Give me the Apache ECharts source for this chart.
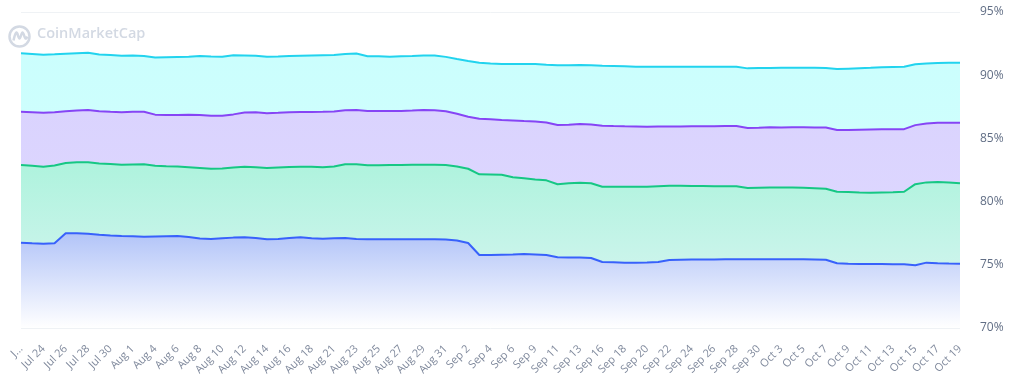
<!DOCTYPE html>
<html>
<head>
<meta charset="utf-8">
<script src="https://cdn.jsdelivr.net/npm/echarts@6/dist/echarts.min.js"></script>
<style>
html,body{margin:0;padding:0;background:#fff;}
#chart{width:1012px;height:391px;}
</style>
</head>
<body>
<div id="chart"></div>
<script>
const dates = [
 'Jul 22','Jul 23','Jul 24','Jul 25','Jul 26','Jul 27','Jul 28','Jul 29','Jul 30','Jul 31',
 'Aug 1','Aug 2','Aug 4','Aug 5','Aug 6','Aug 7','Aug 8','Aug 9','Aug 10','Aug 11',
 'Aug 12','Aug 13','Aug 14','Aug 15','Aug 16','Aug 17','Aug 18','Aug 19','Aug 21','Aug 22',
 'Aug 23','Aug 24','Aug 25','Aug 26','Aug 27','Aug 28','Aug 29','Aug 30','Aug 31','Sep 1',
 'Sep 2','Sep 3','Sep 4','Sep 5','Sep 6','Sep 7','Sep 9','Sep 10','Sep 11','Sep 12',
 'Sep 13','Sep 14','Sep 16','Sep 17','Sep 18','Sep 19','Sep 20','Sep 21','Sep 22','Sep 23',
 'Sep 24','Sep 25','Sep 26','Sep 27','Sep 28','Sep 29','Sep 30','Oct 1','Oct 3','Oct 4',
 'Oct 5','Oct 6','Oct 7','Oct 8','Oct 9','Oct 10','Oct 11','Oct 12','Oct 13','Oct 14',
 'Oct 15','Oct 16','Oct 17','Oct 18','Oct 19'
];

const cyanValues = [
 91.73,91.68,91.62,91.65,91.70,91.74,91.78,91.64,91.60,91.54,
 91.56,91.52,91.40,91.42,91.44,91.46,91.52,91.48,91.46,91.58,
 91.56,91.54,91.46,91.48,91.52,91.54,91.56,91.58,91.60,91.68,
 91.72,91.50,91.49,91.46,91.50,91.52,91.56,91.55,91.45,91.28,
 91.12,90.98,90.92,90.89,90.89,90.89,90.88,90.82,90.78,90.79,
 90.80,90.79,90.74,90.72,90.70,90.67,90.67,90.67,90.67,90.67,
 90.67,90.67,90.67,90.67,90.67,90.54,90.56,90.57,90.58,90.58,
 90.58,90.58,90.57,90.49,90.52,90.55,90.58,90.62,90.65,90.67,
 90.86,90.92,90.96,90.99,90.99
];

const purpleValues = [
 87.11,87.07,87.03,87.07,87.15,87.20,87.25,87.15,87.10,87.06,
 87.10,87.11,86.88,86.85,86.85,86.87,86.85,86.80,86.80,86.90,
 87.05,87.06,86.99,87.02,87.06,87.08,87.09,87.10,87.12,87.22,
 87.25,87.17,87.17,87.17,87.17,87.20,87.24,87.22,87.14,86.95,
 86.72,86.55,86.52,86.46,86.42,86.37,86.33,86.25,86.06,86.08,
 86.14,86.10,86.01,85.98,85.96,85.95,85.93,85.94,85.95,85.95,
 85.96,85.96,85.97,85.98,85.98,85.82,85.84,85.88,85.87,85.88,
 85.88,85.87,85.86,85.66,85.66,85.68,85.70,85.72,85.72,85.73,
 86.05,86.18,86.24,86.24,86.24
];

const greenValues = [
 82.90,82.83,82.76,82.85,83.05,83.11,83.11,83.02,82.98,82.92,
 82.94,82.95,82.84,82.80,82.77,82.72,82.66,82.60,82.62,82.70,
 82.76,82.72,82.66,82.70,82.74,82.75,82.76,82.71,82.78,82.95,
 82.95,82.87,82.88,82.90,82.90,82.92,82.92,82.92,82.90,82.78,
 82.60,82.16,82.14,82.12,81.92,81.85,81.75,81.68,81.37,81.45,
 81.50,81.45,81.18,81.18,81.18,81.18,81.18,81.22,81.25,81.25,
 81.24,81.23,81.22,81.22,81.22,81.08,81.10,81.12,81.12,81.12,
 81.10,81.06,81.02,80.78,80.76,80.72,80.70,80.72,80.74,80.78,
 81.38,81.52,81.55,81.52,81.45
];

const blueValues = [
 76.75,76.70,76.67,76.70,77.49,77.49,77.45,77.38,77.32,77.28,
 77.25,77.22,77.24,77.26,77.28,77.20,77.08,77.05,77.10,77.15,
 77.18,77.12,77.02,77.05,77.12,77.18,77.10,77.06,77.10,77.12,
 77.05,77.02,77.02,77.02,77.02,77.02,77.02,77.02,77.00,76.92,
 76.72,75.78,75.78,75.80,75.82,75.85,75.82,75.78,75.60,75.58,
 75.58,75.54,75.22,75.20,75.17,75.17,75.19,75.22,75.38,75.40,
 75.41,75.42,75.42,75.43,75.44,75.44,75.43,75.43,75.44,75.44,
 75.44,75.42,75.40,75.12,75.08,75.06,75.06,75.06,75.05,75.04,
 74.96,75.17,75.12,75.10,75.09
];

const yTicks = [70, 75, 80, 85, 90, 95];

function grad(top, bottom) {
  return new echarts.graphic.LinearGradient(0, 0, 0, 1, [
    {offset: 0, color: top}, {offset: 1, color: bottom}
  ]);
}

function areaSeries(name, data, lineColor, fill) {
  return {
    name: name,
    type: 'line',
    data: data,
    symbol: 'none',
    smooth: false,
    lineStyle: {color: lineColor, width: 2},
    itemStyle: {color: lineColor},
    areaStyle: {color: fill, opacity: 1}
  };
}

const chart = echarts.init(document.getElementById('chart'), null, {renderer: 'canvas'});
chart.setOption({
  animation: false,
  backgroundColor: '#ffffff',
  grid: {left: 21, right: 52, top: 12, bottom: 63},
  xAxis: {
    type: 'category',
    data: dates,
    boundaryGap: false,
    axisLine: {show: false},
    axisTick: {show: false},
    splitLine: {show: false},
    axisLabel: {
      interval: 1,
      rotate: 45,
      margin: 19,
      color: '#808a9d',
      fontSize: 11,
      fontFamily: 'Open Sans',
      formatter: function (v, i) { return i === 0 ? 'J...' : v; }
    }
  },
  yAxis: {
    type: 'value',
    position: 'right',
    min: yTicks[0],
    max: yTicks[yTicks.length - 1],
    interval: 5,
    axisLine: {show: false},
    axisTick: {show: false},
    splitLine: {lineStyle: {color: '#eff2f5', width: 1}},
    axisLabel: {
      margin: 20,
      color: '#616e85',
      fontSize: 12,
      fontFamily: 'Open Sans',
      formatter: '{value}%'
    }
  },
  graphic: [
    {
      type: 'circle', left: 7, top: 24,
      shape: {r: 10},
      style: {fill: 'none', stroke: '#d3d9e3', lineWidth: 2.5}
    },
    {
      type: 'polyline', left: 11, top: 30,
      shape: {points: [[0, 10], [3, 2], [6, 8], [9, 2], [12, 8], [14, 6]], smooth: 0.4},
      style: {fill: 'none', stroke: '#d3d9e3', lineWidth: 2.5}
    },
    {
      type: 'text', left: 37, top: 26,
      style: {text: 'CoinMarketCap', fill: '#d3d9e3', font: '600 14.5px "Open Sans"'}
    }
  ],
  series: [
    areaSeries('Cyan', cyanValues, '#22d3ee', grad('#cbfefd', '#d6fffd')),
    areaSeries('Purple', purpleValues, '#8645f5', grad('#dad3fe', '#e0dbff')),
    areaSeries('Green', greenValues, '#16c784', grad('#aef3dd', '#ddf5f4')),
    areaSeries('Blue', blueValues, '#3861fb', grad('#b2c4f8', '#ffffff'))
  ]
});
</script>
</body>
</html>
